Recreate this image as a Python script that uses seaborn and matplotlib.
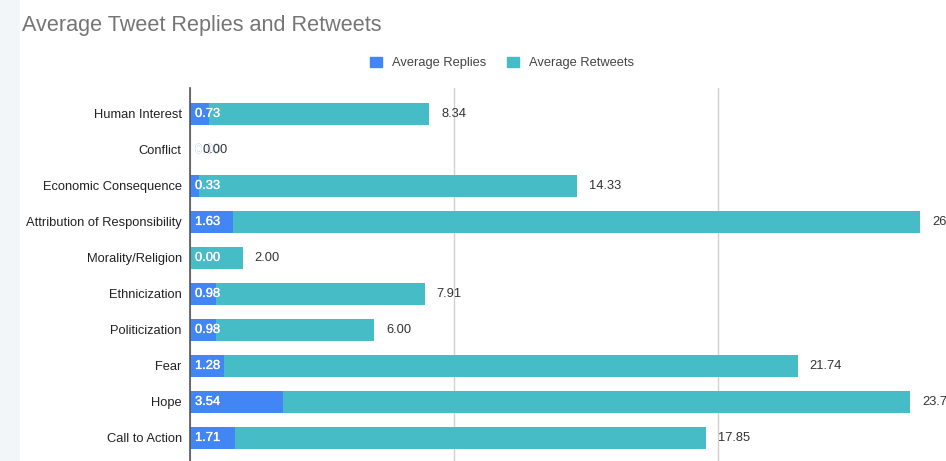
import matplotlib
matplotlib.use("Agg")
import matplotlib.pyplot as plt
import matplotlib.patheffects as pe
import seaborn as sns
import pandas as pd

categories = ["Human Interest", "Conflict", "Economic Consequence",
              "Attribution of Responsibility", "Morality/Religion",
              "Ethnicization", "Politicization", "Fear", "Hope", "Call to Action"]
avg_replies = [0.73, 0.00, 0.33, 1.63, 0.00, 0.98, 0.98, 1.28, 3.54, 1.71]
avg_retweets = [8.34, 0.00, 14.33, 26.02, 2.00, 7.91, 6.00, 21.74, 23.73, 17.85]
x_ticks = [0, 10, 20, 30]

BLUE = "#4285F4"
TEAL = "#46BDC6"

df = pd.DataFrame({"category": categories,
                   "replies": avg_replies,
                   "retweets": avg_retweets})
df["total"] = df["replies"] + df["retweets"]

sns.set_theme(style="white")
plt.rcParams["font.family"] = ["Liberation Sans", "DejaVu Sans"]

W, H = 946, 461
fig = plt.figure(figsize=(W / 100, H / 100), dpi=100)
fig.patch.set_facecolor("white")

# light strip at left edge of the screenshot
fig.patches.append(plt.Rectangle((0, 0), 20 / W, 1, transform=fig.transFigure,
                                 facecolor="#f2f6f8", edgecolor="none", zorder=0))

px_per_unit = 26.4
row_px = 36
top_px = 88
left_px = 190
ymin, ymax = -0.72, 10.0
xmax = 30
ax_w = xmax * px_per_unit
ax_h = (ymax - ymin) * row_px
ax = fig.add_axes([left_px / W, 1 - (top_px + ax_h) / H, ax_w / W, ax_h / H])

sns.barplot(data=df, y="category", x="total", color=TEAL, orient="h",
            width=0.61, ax=ax, saturation=1, label="Average Retweets", zorder=2,
            edgecolor="none", linewidth=0)
sns.barplot(data=df, y="category", x="replies", color=BLUE, orient="h",
            width=0.61, ax=ax, saturation=1, label="Average Replies", zorder=3,
            edgecolor="none", linewidth=0)

ax.set_xlim(0, xmax)
ax.set_ylim(ymax, ymin)
ax.set_xticks(x_ticks)
ax.set_xticklabels([])
ax.xaxis.grid(True, color="#d0d0d0", linewidth=1)
ax.set_axisbelow(True)
ax.set_xlabel("")
ax.set_ylabel("")
for s in ["top", "right", "bottom"]:
    ax.spines[s].set_visible(False)
ax.spines["left"].set_color("#555555")
ax.spines["left"].set_linewidth(1.2)
ax.spines["left"].set_zorder(5)
ax.tick_params(axis="y", length=0, pad=6, labelsize=9.3, labelcolor="#222222")
ax.tick_params(axis="x", length=0)

for i, (r, t, tot) in enumerate(zip(avg_replies, avg_retweets, df["total"])):
    ax.annotate(f"{r:.2f}", xy=(0, i), xytext=(5, 0), textcoords="offset pixels",
                ha="left", va="center", fontsize=9.3, color="white", zorder=6,
                path_effects=[pe.withStroke(linewidth=0.5, foreground="#8fb4f7"),
                              pe.Normal()])
    ax.annotate(f"{t:.2f}", xy=(tot, i), xytext=(12, 0), textcoords="offset pixels",
                ha="left", va="center", fontsize=9.3, color="#333333", zorder=6,
                annotation_clip=False)

if ax.get_legend() is not None:
    ax.get_legend().remove()

# legend
handles = [plt.Rectangle((0, 0), 1, 1, color=BLUE), plt.Rectangle((0, 0), 1, 1, color=TEAL)]
fig.legend(handles, ["Average Replies", "Average Retweets"], loc="center",
           bbox_to_anchor=(502 / W, 1 - 63 / H), ncol=2, frameon=False,
           fontsize=9.3, handlelength=0.9, handleheight=0.9, handletextpad=0.8,
           columnspacing=1.6, labelcolor="#444444")

fig.text(22 / W, 1 - 26 / H, "Average Tweet Replies and Retweets", ha="left",
         va="center", fontsize=15.6, color="#757575")

fig.savefig("out.png", dpi=100)
